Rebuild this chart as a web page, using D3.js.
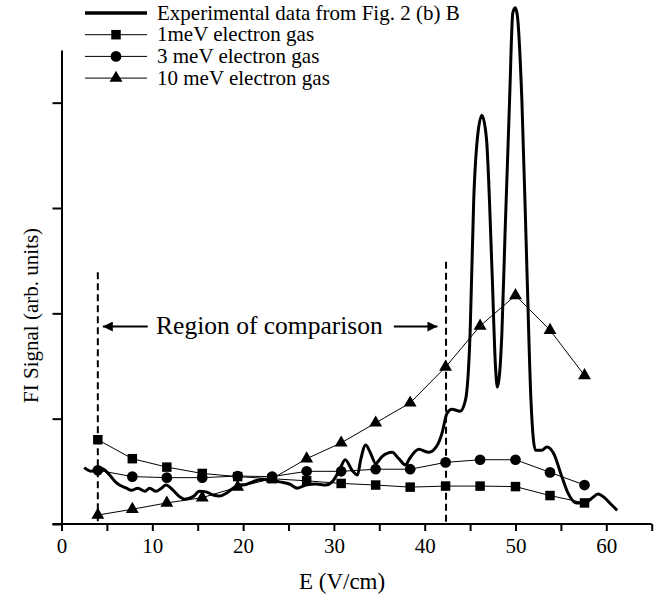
<!DOCTYPE html>
<html>
<head>
<meta charset="utf-8">
<script src="https://cdn.jsdelivr.net/npm/d3@7"></script>
<style>
    body { margin: 0; background: #fff; }
    svg { font-family: "Liberation Serif", "Times New Roman", serif; }
</style>
</head>
<body>
<div id="chart-wrapper"></div>
<script>
// Field values (V/cm) where the simulated curves were computed
const simField = [4.0, 7.8, 11.6, 15.5, 19.4, 23.2, 27.0, 30.8, 34.6, 38.4, 42.3, 46.1, 50.0, 53.8, 57.6];
const gas1meV  = [0.80, 0.62, 0.54, 0.48, 0.45, 0.43, 0.41, 0.385, 0.37, 0.35, 0.36, 0.36, 0.355, 0.27, 0.20];
const gas3meV  = [0.51, 0.45, 0.44, 0.44, 0.455, 0.45, 0.50, 0.50, 0.52, 0.52, 0.585, 0.61, 0.61, 0.49, 0.37];
const gas10meV = [0.085, 0.14, 0.20, 0.25, 0.35, 0.43, 0.62, 0.77, 0.96, 1.15, 1.49, 1.88, 2.17, 1.84, 1.41];

// Experimental trace
const expField = [2.5, 3.3, 4.15, 4.8, 5.3, 6.05, 7.15, 7.7, 8.4, 9.2, 9.7, 10.4, 11.0, 11.5, 12.3, 13.0, 13.55, 14.5,
    15.2, 15.9, 16.7, 17.4, 18.1, 18.9, 19.6, 20.3, 21.05, 21.8, 22.9, 24.0, 25.1, 26.0, 26.9, 28.0, 29.1, 29.8,
    30.6, 31.25, 32.0, 32.6, 32.95, 33.5, 34.05, 34.6, 35.3, 36.4, 37.15, 37.9, 38.25, 39.35, 40.45, 41.4, 41.9,
    42.45, 43.0, 43.9, 44.5, 45.0, 45.4, 45.8, 46.3, 46.8, 47.4, 47.8, 48.0, 48.5, 48.85, 49.35, 49.7, 49.97,
    50.2, 50.7, 51.25, 51.7, 52.2, 52.9, 53.45, 54.2, 55.1, 55.8, 56.7, 57.65, 58.4, 59.1, 59.85, 60.6, 61.2];
const expSignal = [0.535, 0.50, 0.535, 0.51, 0.465, 0.39, 0.34, 0.32, 0.34, 0.31, 0.34, 0.31, 0.34, 0.37, 0.32, 0.26, 0.235, 0.26,
    0.31, 0.305, 0.275, 0.265, 0.29, 0.34, 0.37, 0.375, 0.40, 0.42, 0.425, 0.40, 0.38, 0.34, 0.37, 0.38, 0.37, 0.40,
    0.51, 0.61, 0.51, 0.465, 0.61, 0.75, 0.67, 0.575, 0.64, 0.68, 0.62, 0.56, 0.61, 0.71, 0.68, 0.75, 0.86,
    1.05, 1.09, 1.07, 1.18, 1.81, 3.08, 3.66, 3.88, 3.66, 2.44, 1.49, 1.30, 1.81, 2.76, 4.03, 4.85, 4.90,
    4.83, 4.03, 2.44, 1.18, 0.70, 0.70, 0.73, 0.67, 0.45, 0.29, 0.20, 0.20, 0.245, 0.285, 0.245, 0.18, 0.13];

// Axes
const xTicks = [0, 5, 10, 15, 20, 25, 30, 35, 40, 45, 50, 55, 60, 65];
const xTickLabels = ["0", "", "10", "", "20", "", "30", "", "40", "", "50", "", "60", ""];
const yTicks = [0, 1, 2, 3, 4];
const xLabel = "E (V/cm)";
const yLabel = "FI Signal (arb. units)";

// Region-of-comparison annotation
const regionBounds = [4.0, 42.35];
const regionTops = [2.39, 2.49];
const regionText = "Region of comparison";

const legendLabels = [
    "Experimental data from Fig. 2 (b) B",
    "1meV electron gas",
    "3 meV electron gas",
    "10 meV electron gas"
];

function drawChart() {
    const dimensions = {
        width: 663,
        height: 597,
        margin: { top: 50, right: 11.3, bottom: 73, left: 61.5 },
    };
    dimensions.boundedWidth = dimensions.width - dimensions.margin.left - dimensions.margin.right;
    dimensions.boundedHeight = dimensions.height - dimensions.margin.top - dimensions.margin.bottom;

    const svg = d3.select("#chart-wrapper")
        .append("svg")
        .attr("width", dimensions.width)
        .attr("height", dimensions.height);

    const bounds = svg.append("g")
        .attr("transform", `translate(${dimensions.margin.left}, ${dimensions.margin.top})`);

    const xScale = d3.scaleLinear()
        .domain([0, 65])
        .range([0, dimensions.boundedWidth]);

    const yScale = d3.scaleLinear()
        .domain([0, 4.5])
        .range([dimensions.boundedHeight, 0]);

    // arrowhead marker
    svg.append("defs").append("marker")
        .attr("id", "arrow")
        .attr("viewBox", "0 0 10 10")
        .attr("refX", 10).attr("refY", 5)
        .attr("markerWidth", 6).attr("markerHeight", 5)
        .attr("markerUnits", "strokeWidth")
        .attr("orient", "auto")
        .append("path")
        .attr("d", "M0,0 L10,5 L0,10 z")
        .attr("fill", "#000");

    // axes
    const xAxis = bounds.append("g")
        .attr("transform", `translate(0, ${dimensions.boundedHeight})`)
        .call(d3.axisBottom(xScale)
            .tickValues(xTicks)
            .tickFormat((d, i) => xTickLabels[i])
            .tickSizeInner(7)
            .tickSizeOuter(0)
            .tickPadding(7));
    xAxis.select(".domain")
        .attr("d", `M-9,0H${dimensions.boundedWidth}`)
        .attr("stroke-width", 2);
    xAxis.selectAll(".tick line").attr("stroke-width", 2);
    xAxis.selectAll(".tick text")
        .attr("font-size", 21)
        .attr("font-family", "Liberation Serif");

    const yAxis = bounds.append("g")
        .call(d3.axisLeft(yScale)
            .tickValues(yTicks)
            .tickFormat("")
            .tickSizeInner(9)
            .tickSizeOuter(0));
    yAxis.select(".domain").attr("stroke-width", 2);
    yAxis.selectAll(".tick line").attr("stroke-width", 2);

    svg.append("text")
        .attr("x", dimensions.margin.left + xScale(30.9))
        .attr("y", 589)
        .attr("text-anchor", "middle")
        .attr("font-size", 23)
        .text(xLabel);

    svg.append("text")
        .attr("transform", `translate(38, ${dimensions.margin.top + yScale(1.98)}) rotate(-90)`)
        .attr("text-anchor", "middle")
        .attr("font-size", 21)
        .text(yLabel);

    // region of comparison
    bounds.selectAll(".region-line")
        .data(regionBounds)
        .enter().append("line")
        .attr("class", "region-line")
        .attr("x1", d => xScale(d)).attr("x2", d => xScale(d))
        .attr("y1", (d, i) => yScale(regionTops[i]))
        .attr("y2", yScale(0))
        .attr("stroke", "#000")
        .attr("stroke-width", 2)
        .attr("stroke-dasharray", "7,4");

    const arrowY = yScale(1.875);
    bounds.append("line")
        .attr("x1", xScale(9.5)).attr("x2", xScale(4.55))
        .attr("y1", arrowY).attr("y2", arrowY)
        .attr("stroke", "#000").attr("stroke-width", 2)
        .attr("marker-end", "url(#arrow)");
    bounds.append("line")
        .attr("x1", xScale(36.6)).attr("x2", xScale(41.4))
        .attr("y1", arrowY).attr("y2", arrowY)
        .attr("stroke", "#000").attr("stroke-width", 2)
        .attr("marker-end", "url(#arrow)");
    bounds.append("text")
        .attr("x", xScale(22.9))
        .attr("y", arrowY + 7.5)
        .attr("text-anchor", "middle")
        .attr("font-size", 25.5)
        .text(regionText);

    // simulated series
    const simLine = d3.line()
        .x(d => xScale(d[0]))
        .y(d => yScale(d[1]));

    const series = [
        { values: gas1meV, symbol: d3.symbolSquare, size: 90 },
        { values: gas3meV, symbol: d3.symbolCircle, size: 90 },
        { values: gas10meV, symbol: d3.symbolTriangle, size: 72 },
    ];

    series.forEach(s => {
        const pts = simField.map((x, i) => [x, s.values[i]]);
        bounds.append("path")
            .attr("d", simLine(pts))
            .attr("fill", "none")
            .attr("stroke", "#000")
            .attr("stroke-width", 1);
        bounds.selectAll(null)
            .data(pts)
            .enter().append("path")
            .attr("transform", d => `translate(${xScale(d[0])}, ${yScale(d[1])})`)
            .attr("d", d3.symbol().type(s.symbol).size(s.size))
            .attr("fill", "#000");
    });

    // experimental trace
    const expLine = d3.line()
        .x(d => xScale(d[0]))
        .y(d => yScale(d[1]))
        .curve(d3.curveMonotoneX);
    bounds.append("path")
        .attr("d", expLine(expField.map((x, i) => [x, expSignal[i]])))
        .attr("fill", "none")
        .attr("stroke", "#000")
        .attr("stroke-width", 3)
        .attr("stroke-linejoin", "round");

    // legend
    const legend = svg.append("g").attr("transform", "translate(85, 13)");
    const legendItems = legend.selectAll(".legend-item")
        .data(legendLabels)
        .enter().append("g")
        .attr("class", "legend-item")
        .attr("transform", (d, i) => `translate(0, ${i * 21.7})`);
    legendItems.append("line")
        .attr("x1", 0).attr("x2", 62)
        .attr("stroke", "#000")
        .attr("stroke-width", (d, i) => i === 0 ? 3.5 : 1);
    legendItems.filter((d, i) => i > 0)
        .append("path")
        .attr("transform", "translate(31, 0)")
        .attr("d", (d, i) => d3.symbol().type(series[i].symbol).size(series[i].size)());
    legendItems.append("text")
        .attr("x", 72)
        .attr("y", 6.5)
        .attr("font-size", 21)
        .text(d => d);
}

drawChart();
</script>
</body>
</html>
